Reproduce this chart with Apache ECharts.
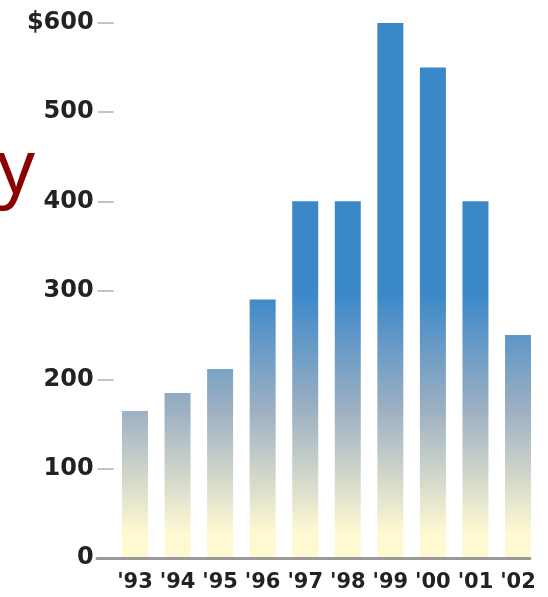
<!DOCTYPE html>
<html><head><meta charset="utf-8">
<script src="https://cdn.jsdelivr.net/npm/echarts@6/dist/echarts.min.js"></script>
<style>html,body{margin:0;padding:0;background:#fff}#c{width:548px;height:597px}</style>
</head><body><div id="c"></div>
<script>
var categories = ["'93","'94","'95","'96","'97","'98","'99","'00","'01","'02"];
var values = [165, 185, 212, 290, 400, 400, 600, 550, 400, 250];
var yTicks = [0, 100, 200, 300, 400, 500, 600];
var titleText = 'y';

var chart = echarts.init(document.getElementById('c'), null, {renderer:'canvas'});
var grad = {type:'linear', x:0, y:293, x2:0, y2:533, global:true,
  colorStops:[{offset:0,color:'#3b88c9'},{offset:0.5,color:'#9fb1c2'},{offset:1,color:'#fff9d2'}]};
chart.setOption({
  animation:false,
  graphic:[{type:'text', style:{text:titleText, x:35, y:172, align:'right', verticalAlign:'middle',
    font:'75px "Noto Sans"', fill:'#8b0000'}}],
  grid:[
    {left:113.7, right:8.7, top:23, bottom:39},
    {left:97, right:18, top:23, bottom:39}
  ],
  xAxis:[
    {type:'category', gridIndex:0, data:categories, axisLine:{show:false}, axisTick:{show:false},
     axisLabel:{color:'#222', fontFamily:'DejaVu Sans', fontWeight:'bold', fontSize:21, margin:14, interval:0}},
    {type:'value', gridIndex:1, min:0, max:1, z:5, axisLine:{show:true, lineStyle:{color:'#999', width:3}},
     axisTick:{show:false}, axisLabel:{show:false}, splitLine:{show:false}}
  ],
  yAxis:[
    {type:'value', gridIndex:0, min:0, max:600, interval:100,
     axisLine:{show:false}, axisTick:{show:true, length:16, lineStyle:{color:'#c4c4c4', width:2}},
     splitLine:{show:false},
     axisLabel:{color:'#222', fontFamily:'DejaVu Sans', fontWeight:'bold', fontSize:24, margin:20,
       formatter:function(v){ return yTicks.indexOf(v)===yTicks.length-1 ? '$'+v : String(v); }}},
    {type:'value', gridIndex:1, min:0, max:1, show:false}
  ],
  series:[{type:'bar', xAxisIndex:0, yAxisIndex:0, data:values, barWidth:26,
    itemStyle:{color:grad}}]
});
</script></body></html>
